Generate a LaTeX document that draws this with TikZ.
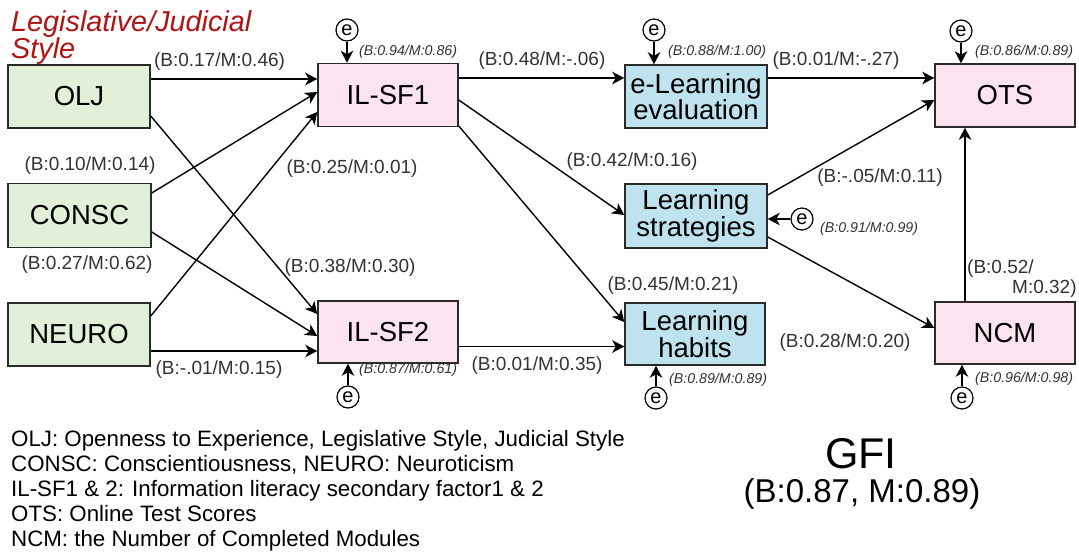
\documentclass[tikz,border=0pt]{standalone}
\usepackage{fontspec}
\setmainfont{Liberation Sans}
\usetikzlibrary{arrows.meta,calc}
\definecolor{boxgreen}{HTML}{E2F0D9}
\definecolor{boxpink}{HTML}{FBE4F0}
\definecolor{boxblue}{HTML}{BEE3EE}
\definecolor{edgegray}{HTML}{2A2A2A}
\definecolor{stylered}{HTML}{B01515}
\tikzset{
  varbox/.style={draw=edgegray, line width=1.5pt, minimum width=140pt, minimum height=62pt, inner sep=0pt, align=center, font=\fontsize{27.5}{24}\selectfont},
  gbox/.style={varbox, fill=boxgreen},
  pbox/.style={varbox, fill=boxpink},
  bbox/.style={varbox, fill=boxblue},
  errc/.style={draw=black, circle, line width=1.2pt, minimum size=22pt, inner sep=0pt, font=\fontsize{20}{20}\selectfont},
  arr/.style={line width=1.4pt, draw=black, -{Stealth[length=12pt,width=12.5pt,inset=3.5pt]}},
  elab/.style={inner sep=0pt, font=\fontsize{19}{20}\selectfont, text=black!80},
  rlab/.style={inner sep=0pt, anchor=west, font=\fontsize{14.2}{15}\selectfont\itshape, text=black!80},
}
\begin{document}
\begin{tikzpicture}[x=1pt,y=-1pt]
\useasboundingbox (0,0) rectangle (1079,555);
\fill[white] (0,0) rectangle (1079,555);

% title in red
\node[inner sep=0pt, anchor=north west, align=left, text=stylered,
  font=\fontsize{28.8}{23}\selectfont\itshape] (title) at (11,10) {Legislative/Judicial\\Style};

% boxes
\node[gbox, minimum width=142pt, minimum height=63pt] (OLJ) at (79,96.5) {OLJ};
\node[gbox, minimum width=143pt, minimum height=64pt] (CONSC) at (79.5,215.5) {CONSC};
\node[gbox, minimum width=142pt, minimum height=63pt] (NEURO) at (79,334.5) {NEURO};
\node[pbox, minimum height=63pt] (IL1) at (388,95) {IL-SF1};
\node[pbox] (IL2) at (388,332) {IL-SF2};
\node[bbox, minimum width=142pt, minimum height=63pt] (ELE) at (696,96.5) {e-Learning\\evaluation};
\node[bbox, minimum width=142pt, minimum height=64pt] (LS) at (696,216) {Learning\\strategies};
\node[bbox] (LH) at (695,334) {Learning\\habits};
\node[pbox, minimum height=63pt] (OTS) at (1005,95.5) {OTS};
\node[pbox] (NCM) at (1005,333) {NCM};

% error terms
\node[errc] (eIL1) at (347,30) {e};
\node[errc] (eELE) at (654,30) {e};
\node[errc] (eOTS) at (961,31) {e};
\node[errc] (eIL2) at (348,397) {e};
\node[errc] (eLH) at (656,398) {e};
\node[errc] (eNCM) at (962,398) {e};
\node[errc] (eLS) at (802,219) {e};

\draw[arr] (eIL1.south) -- (eIL1.south |- IL1.north);
\draw[arr] (eELE.south) -- (eELE.south |- ELE.north);
\draw[arr] (eOTS.south) -- (eOTS.south |- OTS.north);
\draw[arr] (eIL2.north) -- (eIL2.north |- IL2.south);
\draw[arr] (eLH.north) -- (eLH.north |- LH.south);
\draw[arr] (eNCM.north) -- (eNCM.north |- NCM.south);
\draw[arr] (eLS.west) -- (eLS.west -| LS.east);

% paths
\draw[arr] ($(OLJ.east)+(0,-17.5)$) -- ($(IL1.west)+(0,-16)$);
\draw[arr] ($(OLJ.east)+(0,19.5)$) -- ($(IL2.west)+(0,-18)$);
\draw[arr] ($(CONSC.east)+(0,-22.5)$) -- ($(IL1.west)+(0,-3)$);
\draw[arr] ($(CONSC.east)+(0,16.5)$) -- ($(IL2.west)+(0,4)$);
\draw[arr] ($(NEURO.east)+(0,-18.5)$) -- ($(IL1.west)+(0,17)$);
\draw[arr] ($(NEURO.east)+(0,16.5)$) -- ($(IL2.west)+(0,19)$);
\draw[arr] ($(IL1.east)+(0,-17)$) -- ($(ELE.west)+(0,-18.5)$);
\draw[arr] ($(IL1.east)+(0,5)$) -- ($(LS.west)+(0,-1)$);
\draw[arr] ($(IL1.east)+(0,31)$) -- ($(LH.west)+(0,-12)$);
\draw[arr] ($(IL2.east)+(0,14.5)$) -- ($(LH.west)+(0,12.5)$);
\draw[arr] ($(ELE.east)+(0,-18.5)$) -- ($(OTS.west)+(0,-17.5)$);
\draw[arr] ($(LS.east)+(0,-21)$) -- ($(OTS.west)+(0,4.5)$);
\draw[arr] ($(LS.east)+(0,21)$) -- ($(NCM.west)+(0,-5)$);
\draw[arr] ($(NCM.north)+(-40,0)$) -- ($(OTS.south)+(-40,0)$);

% path labels
\node[elab] (l1) at (219.5,62) {(B:0.17/M:0.46)};
\node[elab] (l2) at (90,166) {(B:0.10/M:0.14)};
\node[elab] (l3) at (352,169) {(B:0.25/M:0.01)};
\node[elab] (l4) at (87,265) {(B:0.27/M:0.62)};
\node[elab] (l5) at (350,268) {(B:0.38/M:0.30)};
\node[elab] (l6) at (219,370) {(B:-.01/M:0.15)};
\node[elab] (l7) at (542,61) {(B:0.48/M:-.06)};
\node[elab] (l8) at (836,61) {(B:0.01/M:-.27)};
\node[elab] (l9) at (632,162) {(B:0.42/M:0.16)};
\node[elab] (l10) at (880,178) {(B:-.05/M:0.11)};
\node[elab] (l11) at (673,286) {(B:0.45/M:0.21)};
\node[elab] (l12) at (537,366) {(B:0.01/M:0.35)};
\node[elab] (l13) at (845,343) {(B:0.28/M:0.20)};
\node[elab, anchor=north west, align=left, font=\fontsize{19}{20}\selectfont] (l14) at (967,260) {(B:0.52/\\\hspace*{45pt}M:0.32)};

% R-squared labels
\node[rlab] (r1) at (359,52) {(B:0.94/M:0.86)};
\node[rlab] (r2) at (668,52) {(B:0.88/M:1.00)};
\node[rlab] (r3) at (975,52) {(B:0.86/M:0.89)};
\node[rlab] (r4) at (359,370) {(B:0.87/M:0.61)};
\node[rlab] (r5) at (669,380) {(B:0.89/M:0.89)};
\node[rlab] (r6) at (975,379) {(B:0.96/M:0.98)};
\node[rlab] (r7) at (820,229) {(B:0.91/M:0.99)};

% legend
\node[inner sep=0pt, anchor=north west, align=left, font=\fontsize{22.3}{25}\selectfont] (legend) at (11,430) {OLJ: Openness to Experience, Legislative Style, Judicial Style\\
CONSC: Conscientiousness, NEURO: Neuroticism\\
IL-SF1 \& 2: Information literacy secondary factor1 \& 2\\
OTS: Online Test Scores\\
NCM: the Number of Completed Modules};

% GFI
\node[inner sep=0pt, anchor=base, font=\fontsize{43}{43}\selectfont] (gfi) at (861,468) {GFI};
\node[inner sep=0pt, anchor=base, font=\fontsize{33}{33}\selectfont] (gfiv) at (862,502) {(B:0.87, M:0.89)};
\end{tikzpicture}
\end{document}
